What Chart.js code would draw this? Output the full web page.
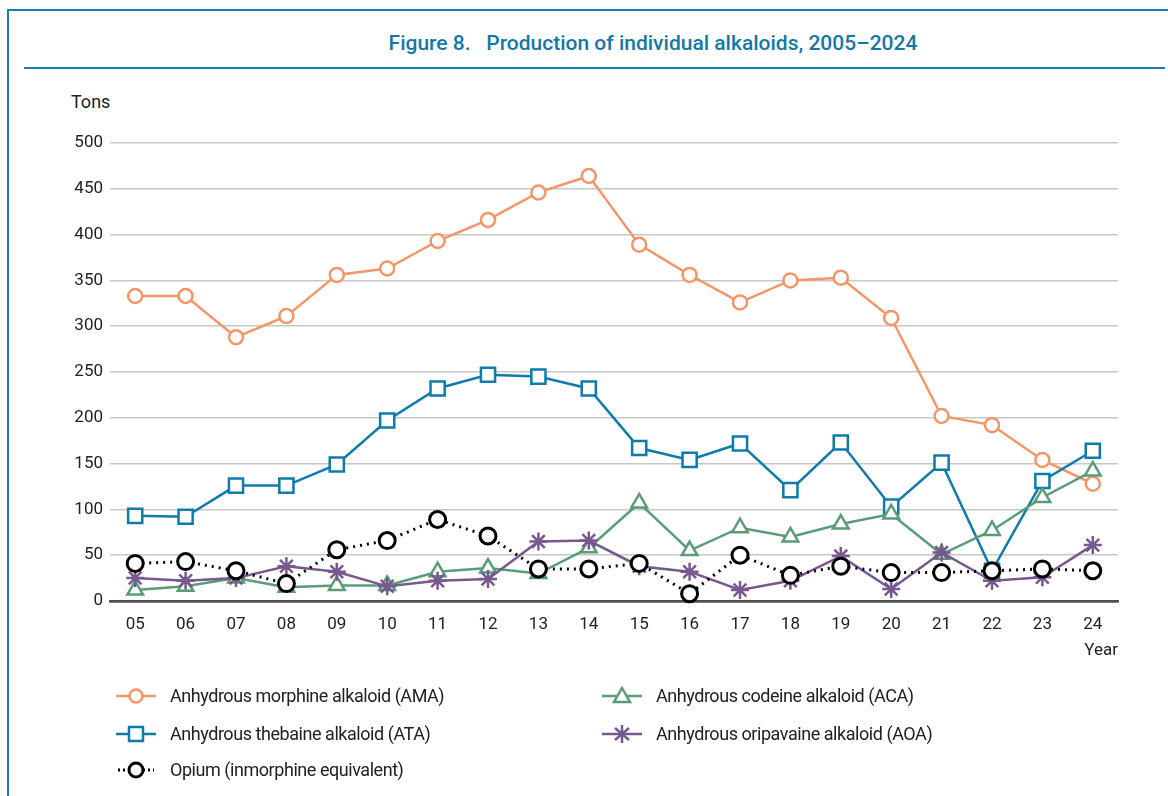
<!DOCTYPE html>
<html>
<head>
<meta charset="utf-8">
<script src="https://cdn.jsdelivr.net/npm/chart.js@4.4.1/dist/chart.umd.min.js"></script>
<style>
  body { margin: 0; background: #fff; font-family: Roboto, "Noto Sans", sans-serif; color: #222; }
  #page { position: relative; width: 1168px; height: 796px; overflow: hidden; }
  .frame-top { position: absolute; left: 7px; top: 9px; width: 1161px; border-top: 2px solid #1b7db3; }
  .frame-left { position: absolute; left: 7px; top: 9px; height: 787px; border-left: 2px solid #1b7db3; }
  .rule { position: absolute; left: 24px; top: 67px; width: 1141px; border-top: 2px solid #1b7db3; }
  #title { position: absolute; left: 653px; top: 31px; transform: translateX(-50%); white-space: pre;
           font-size: 21px; font-weight: 500; color: #1577a6; }
  #unit { position: absolute; left: 71px; top: 91px; font-size: 18px; }
  canvas { position: absolute; left: 0; top: 0; }
  .legend-item { position: absolute; display: flex; align-items: center; font-size: 18px;
                 letter-spacing: -0.45px; white-space: nowrap; }
  .legend-item svg { margin-right: 14px; }
</style>
</head>
<body>
<div id="page">
  <div class="frame-top"></div>
  <div class="frame-left"></div>
  <div id="title">Figure 8.   Production of individual alkaloids, 2005–2024</div>
  <div class="rule"></div>
  <div id="unit">Tons</div>
  <canvas id="chart" width="1168" height="796"></canvas>
  <div id="legend"></div>
</div>
<script>
// years 2005-2024, shown as two digits
const years = ["05", "06", "07", "08", "09", "10", "11", "12", "13", "14",
               "15", "16", "17", "18", "19", "20", "21", "22", "23", "24"];

// tons
const morphine  = [333, 333, 288, 311, 356, 363, 393, 416, 446, 464, 389, 356, 326, 350, 353, 309, 202, 192, 154, 128];
const thebaine  = [93, 92, 126, 126, 149, 197, 232, 247, 245, 232, 167, 154, 172, 121, 173, 103, 151, 33, 131, 164];
const codeine   = [12, 16, 25, 15, 17, 17, 32, 36, 30, 58, 107, 55, 80, 70, 84, 95, 51, 77, 113, 142];
const oripavine = [25, 22, 25, 38, 32, 16, 22, 24, 65, 66, 38, 32, 12, 22, 49, 13, 53, 22, 26, 61];
const opium     = [41, 43, 33, 19, 56, 66, 89, 71, 35, 35, 41, 8, 50, 28, 38, 31, 31, 33, 35, 33];

const yTicks = { min: 0, max: 500, step: 50 };

const series = [
  { label: "Anhydrous morphine alkaloid (AMA)", data: morphine, color: "#f39668", style: "circle", radius: 7, order: 4 },
  { label: "Anhydrous thebaine alkaloid (ATA)", data: thebaine, color: "#0e7bab", style: "rect", radius: 10, order: 3 },
  { label: "Anhydrous codeine alkaloid (ACA)", data: codeine, color: "#5a9c78", style: "triangle", radius: 9, order: 2 },
  { label: "Anhydrous oripavaine alkaloid (AOA)", data: oripavine, color: "#77598f", style: "star", radius: 9, order: 1 },
  { label: "Opium (inmorphine equivalent)", data: opium, color: "#000000", style: "circle", radius: 8, order: 0, dotted: true }
];

const datasets = series.map(s => ({
  label: s.label,
  data: s.data,
  order: s.order,
  borderColor: s.color,
  backgroundColor: "#ffffff",
  borderWidth: s.dotted ? 3 : 2.5,
  borderDash: s.dotted ? [2, 5] : [],
  borderCapStyle: "butt",
  pointStyle: s.style,
  pointRadius: s.radius,
  pointBorderWidth: s.dotted ? 3 : 2.5,
  pointBorderColor: s.color,
  pointBackgroundColor: "#ffffff",
  tension: 0,
  clip: false
}));

const tickFont = { family: "Roboto", size: 17 };

new Chart(document.getElementById("chart"), {
  type: "line",
  data: { labels: years, datasets: datasets },
  options: {
    responsive: false,
    animation: false,
    events: [],
    layout: { padding: { left: 0, right: 50, top: 143, bottom: 135 } },
    plugins: { legend: { display: false }, tooltip: { enabled: false } },
    scales: {
      x: {
        offset: true,
        grid: { display: false },
        border: { display: true, color: "#505050", width: 2.5 },
        ticks: { color: "#222", font: tickFont, padding: 6, maxRotation: 0 },
        title: { display: true, text: "Year", align: "end", color: "#222",
                 font: tickFont, padding: { top: 0, bottom: 0 } },
        afterFit: (scale) => { scale.height = 60; }
      },
      y: {
        min: yTicks.min,
        max: yTicks.max,
        border: { display: false },
        grid: {
          drawTicks: false,
          color: (ctx) => ctx.tick && ctx.tick.value === 0 ? "#505050" : "#c8c8c8",
          lineWidth: (ctx) => ctx.tick && ctx.tick.value === 0 ? 2.5 : 1.5
        },
        ticks: { stepSize: yTicks.step, color: "#222", font: tickFont, padding: 7 },
        afterFit: (scale) => { scale.width = 110; }
      }
    }
  }
});

// legend: two columns like the figure
function markerSvg(s) {
  const c = s.color;
  let line = s.dotted
    ? `<line x1="2" y1="10" x2="38" y2="10" stroke="${c}" stroke-width="3" stroke-dasharray="2 3"/>`
    : `<line x1="0" y1="10" x2="40" y2="10" stroke="${c}" stroke-width="2.5"/>`;
  let mark = "";
  if (s.style === "circle") {
    mark = `<circle cx="20" cy="10" r="${s.dotted ? 7 : 6.5}" fill="#fff" stroke="${c}" stroke-width="${s.dotted ? 3 : 2.5}"/>`;
  } else if (s.style === "rect") {
    mark = `<rect x="13" y="3" width="14" height="14" fill="#fff" stroke="${c}" stroke-width="2.5"/>`;
  } else if (s.style === "triangle") {
    mark = `<polygon points="20,2 28,16 12,16" fill="#fff" stroke="${c}" stroke-width="2.5"/>`;
  } else {
    mark = `<g stroke="${c}" stroke-width="2.5"><line x1="20" y1="1" x2="20" y2="19"/>` +
           `<line x1="13" y1="4" x2="27" y2="16"/><line x1="13" y1="16" x2="27" y2="4"/></g>`;
  }
  return `<svg width="40" height="20" viewBox="0 0 40 20">${line}${mark}</svg>`;
}

const legendPos = [
  { left: 116, top: 697 },
  { left: 116, top: 735 },
  { left: 602, top: 697 },
  { left: 602, top: 735 },
  { left: 116, top: 771 }
];

const legend = document.getElementById("legend");
series.forEach((s, i) => {
  const item = document.createElement("div");
  item.className = "legend-item";
  item.style.left = legendPos[i].left + "px";
  item.style.top = (legendPos[i].top - 12) + "px";
  item.innerHTML = markerSvg(s) + `<span>${s.label}</span>`;
  legend.appendChild(item);
});
</script>
</body>
</html>
